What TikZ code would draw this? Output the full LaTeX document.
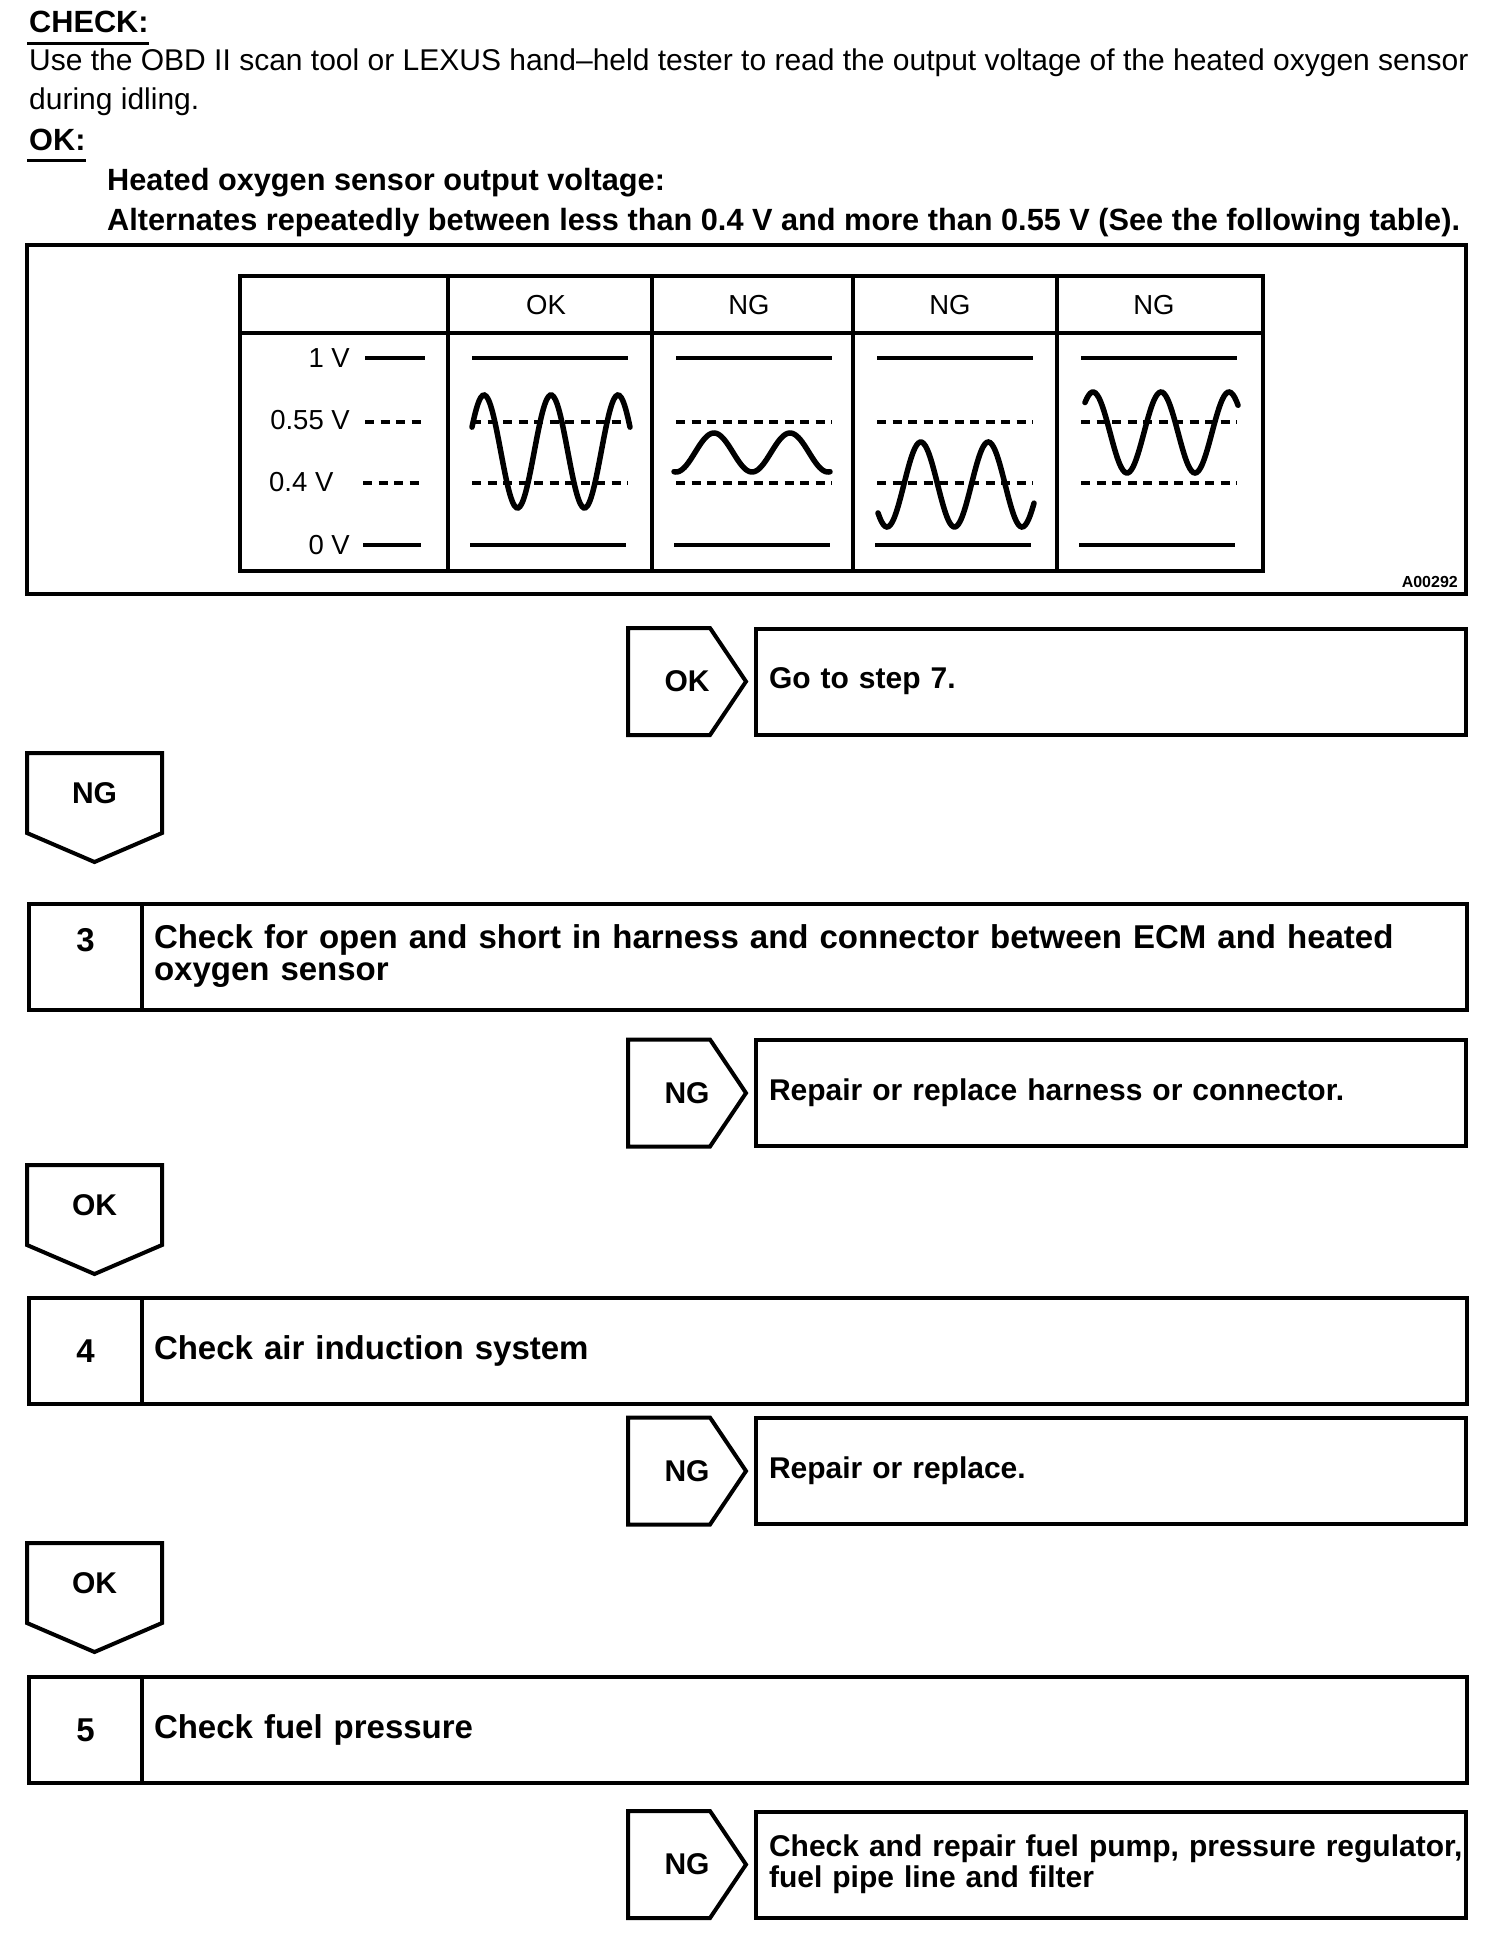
\documentclass[tikz,border=0pt]{standalone}
\usepackage{fontspec}
\setmainfont{Liberation Sans}
\usetikzlibrary{positioning, calc}

\begin{document}
\begin{tikzpicture}[
        x=1pt, y=-1pt,
        node distance=10pt and 10pt,
        para/.style={font=\fontsize{30}{40}\selectfont, inner sep=0pt, anchor=base west},
        parab/.style={para, font=\fontsize{30.7}{40}\selectfont\bfseries},
        cell/.style={font=\fontsize{27.5}{32}\selectfont, inner sep=0pt},
        tableline/.style={line width=4pt},
        ruleline/.style={line width=3.5pt},
        dashline/.style={line width=3.5pt, dash pattern=on 9pt off 6.5pt},
        wave/.style={line width=5.5pt, line cap=round},
        flow/.style={font=\fontsize{30}{31}\selectfont\bfseries, inner sep=0pt, outer sep=0pt},
        box/.style={flow, rectangle, draw, line width=4pt, minimum height=106pt},
        numbox/.style={box, minimum width=113pt, align=center, font=\fontsize{33}{32}\selectfont\bfseries},
        stepbox/.style={box, text width=1301pt, inner xsep=12pt, align=left, font=\fontsize{33}{32}\selectfont\bfseries},
        resbox/.style={box, text width=684pt, inner xsep=13pt, align=left},
        tagbox/.style={flow, minimum width=118pt, minimum height=107pt},
        downbox/.style={flow, minimum width=135pt, minimum height=80pt},
        arrowline/.style={line width=4pt}
    ]
        \useasboundingbox (0,0) rectangle (1504,1948);

        % Check text
        \node[parab] (check) at (29,33) {CHECK:};
        \draw[ruleline] ($(check.south west)+(-2,10)$) -- ($(check.south east)+(0,10)$);
        \node[para] (use) at (29,71) {Use the OBD II scan tool or LEXUS hand–held tester to read the output voltage of the heated oxygen sensor};
        \node[para] (idle) at (29,110) {during idling.};
        \node[parab] (ok) at (29,150) {OK:};
        \draw[ruleline] ($(ok.south west)+(-2,10)$) -- ($(ok.south east)+(0,10)$);
        \node[parab] (spec1) at (107,190) {Heated oxygen sensor output voltage:};
        \node[parab] (spec2) at (107,230) {Alternates repeatedly between less than 0.4 V and more than 0.55 V (See the following table).};

        % Table
        \draw[tableline] (27,245) rectangle (1466,594);
        \draw[tableline] (240,276) rectangle (1263,571);
        \draw[tableline] (240,333) -- (1263,333);
        \foreach \c in {448,652,853,1057}
            \draw[tableline] (\c,276) -- (\c,571);
        \node[cell] (hok) at (546,305) {OK};
        \node[cell] (hng1) at (749,305) {NG};
        \node[cell] (hng2) at (950,305) {NG};
        \node[cell] (hng3) at (1154,305) {NG};

        % Voltage levels
        \node[cell, anchor=east] (v1) at (350,358) {1 V};
        \node[cell, anchor=east] (v055) at (350,420) {0.55 V};
        \node[cell, anchor=west] (v04) at (269,482) {0.4 V};
        \node[cell, anchor=east] (v0) at (350,545) {0 V};
        \draw[ruleline] (365,358) -- (425,358);
        \draw[dashline] (365,422) -- (425,422);
        \draw[dashline] (363,483) -- (423,483);
        \draw[ruleline] (363,545) -- (421,545);
        \foreach \c in {448,652,853,1057} {
            \draw[ruleline] (\c+24,358) -- (\c+180,358);
            \draw[dashline] (\c+24,422) -- (\c+180,422);
            \draw[dashline] (\c+24,483) -- (\c+180,483);
            \draw[ruleline] (\c+22,545) -- (\c+178,545);
        }

        % Waves
        \draw[wave] plot[domain=472:630, samples=90, smooth] (\x, {451.5-56.5*cos((\x-484)/67*360)});
        \draw[wave] plot[domain=674:830, samples=90, smooth] (\x, {452.5+19.5*cos((\x-676)/76*360)});
        \draw[wave] plot[domain=878:1034, samples=90, smooth] (\x, {484.5+42.5*cos((\x-887)/67.5*360)});
        \draw[wave] plot[domain=1085:1238, samples=90, smooth] (\x, {432.5-40.5*cos((\x-1093)/68*360)});
        \node[font=\fontsize{16}{16}\selectfont\bfseries, anchor=east, inner sep=0pt] (code) at (1458,582) {A00292};

        % Steps
        \node[tagbox] (t1) at (687,681.5) {OK};
        \node[resbox, right=of t1] (r1) {Go to step 7.};
        \node[downbox] (d1) at (94.5,793) {NG};
        \node[numbox] (n3) at (85.5,956.5) {3\\\phantom{3}};
        \node[stepbox, right=0pt of n3] (s3) {Check for open and short in harness and connector between ECM and heated\\oxygen sensor};
        \node[tagbox] (t2) at (687,1093) {NG};
        \node[resbox, right=of t2] (r2) {Repair or replace harness or connector.};
        \node[downbox] (d2) at (94.5,1205) {OK};
        \node[numbox] (n4) at (85.5,1351) {4};
        \node[stepbox, right=0pt of n4] (s4) {Check air induction system};
        \node[tagbox] (t3) at (687,1471) {NG};
        \node[resbox, right=of t3] (r3) {Repair or replace.};
        \node[downbox] (d3) at (94.5,1583) {OK};
        \node[numbox] (n5) at (85.5,1730) {5};
        \node[stepbox, right=0pt of n5] (s5) {Check fuel pressure};
        \node[tagbox] (t4) at (687,1864.5) {NG};
        \node[resbox, right=of t4] (r4) {\mbox{Check and repair fuel pump, pressure regulator,}\\fuel pipe line and filter};

        % Arrow outlines
        \foreach \tg in {t1,t2,t3,t4}
            \draw[arrowline] (\tg.north west) -- ($(\tg.north east)+(-36,0)$) -- (\tg.east) -- ($(\tg.south east)+(-36,0)$) -- (\tg.south west) -- cycle;
        \foreach \dn in {d1,d2,d3}
            \draw[arrowline] (\dn.north west) -- (\dn.north east) -- (\dn.south east) -- ($(\dn.south)+(0,29)$) -- (\dn.south west) -- cycle;
    \end{tikzpicture}
\end{document}
